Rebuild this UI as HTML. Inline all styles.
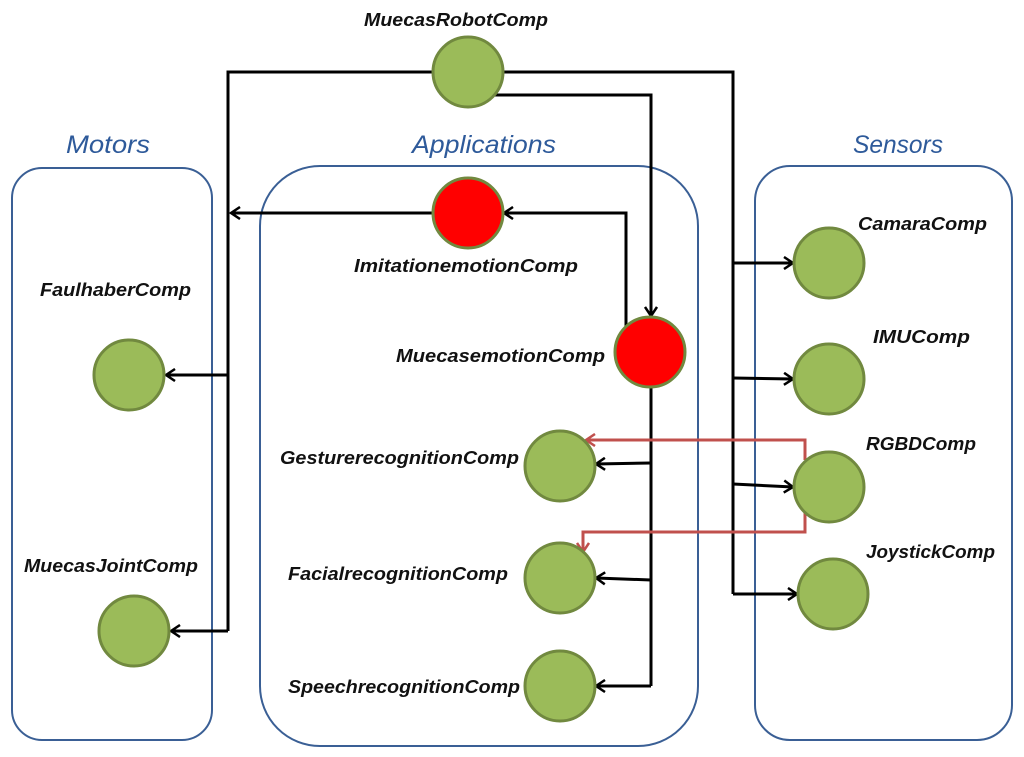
<!DOCTYPE html>
<html><head><meta charset="utf-8"><style>
html,body{margin:0;padding:0;background:#fff;width:1024px;height:757px;overflow:hidden}
svg{display:block}
.l{font-family:"Liberation Sans",sans-serif;font-weight:bold;font-style:italic;font-size:18px;fill:#111}
.t{font-family:"Liberation Sans",sans-serif;font-style:italic;font-size:25px;fill:#2e5a9a}
</style></head><body>
<svg width="1024" height="757" viewBox="0 0 1024 757">
<defs>
<marker id="a" markerWidth="14" markerHeight="14" refX="11" refY="7" orient="auto" markerUnits="userSpaceOnUse"><path d="M2,1 L11,7 L2,13" fill="none" stroke="#000" stroke-width="2.5"/></marker>
<marker id="r" markerWidth="14" markerHeight="14" refX="11" refY="7" orient="auto" markerUnits="userSpaceOnUse"><path d="M2,1 L11,7 L2,13" fill="none" stroke="#c0504d" stroke-width="2.5"/></marker>
</defs>
<g fill="none" stroke="#3a5f95" stroke-width="2">
<rect x="12" y="168" width="200" height="572" rx="30"/>
<rect x="260" y="166" width="438" height="580" rx="60"/>
<rect x="755" y="166" width="257" height="574" rx="35"/>
</g>
<text class="t" x="66" y="153" textLength="84" lengthAdjust="spacingAndGlyphs">Motors</text>
<text class="t" x="412" y="153" textLength="144" lengthAdjust="spacingAndGlyphs">Applications</text>
<text class="t" x="853" y="153" textLength="90" lengthAdjust="spacingAndGlyphs">Sensors</text>
<g fill="none" stroke="#000" stroke-width="3">
<polyline points="434,72 228,72 228,631"/>
<line x1="228" y1="375" x2="166" y2="375" marker-end="url(#a)"/>
<line x1="228" y1="631" x2="171" y2="631" marker-end="url(#a)"/>
<line x1="434" y1="213" x2="231" y2="213" marker-end="url(#a)"/>
<polyline points="502,72 733,72 733,594"/>
<line x1="733" y1="263" x2="793" y2="263" marker-end="url(#a)"/>
<line x1="733" y1="378" x2="793" y2="379" marker-end="url(#a)"/>
<line x1="733" y1="484" x2="793" y2="487" marker-end="url(#a)"/>
<line x1="733" y1="594" x2="797" y2="594" marker-end="url(#a)"/>
<polyline points="492,95 651,95 651,316" marker-end="url(#a)"/>
<polyline points="626,330 626,213 504,213" marker-end="url(#a)"/>
<line x1="651" y1="386" x2="651" y2="686"/>
<line x1="651" y1="463" x2="596" y2="464" marker-end="url(#a)"/>
<line x1="651" y1="580" x2="596" y2="578" marker-end="url(#a)"/>
<line x1="651" y1="686" x2="596" y2="686" marker-end="url(#a)"/>
</g>
<g fill="none" stroke="#c0504d" stroke-width="3">
<polyline points="805,460 805,440 586,440" marker-end="url(#r)"/>
<polyline points="805,512 805,532 583,532 583,552" marker-end="url(#r)"/>
</g>
<g stroke="#71893f" stroke-width="3">
<circle cx="468" cy="72" r="35" fill="#9bbb59"/>
<circle cx="468" cy="213" r="35" fill="#ff0000"/>
<circle cx="650" cy="352" r="35" fill="#ff0000"/>
<circle cx="129" cy="375" r="35" fill="#9bbb59"/>
<circle cx="134" cy="631" r="35" fill="#9bbb59"/>
<circle cx="560" cy="466" r="35" fill="#9bbb59"/>
<circle cx="560" cy="578" r="35" fill="#9bbb59"/>
<circle cx="560" cy="686" r="35" fill="#9bbb59"/>
<circle cx="829" cy="263" r="35" fill="#9bbb59"/>
<circle cx="829" cy="379" r="35" fill="#9bbb59"/>
<circle cx="829" cy="487" r="35" fill="#9bbb59"/>
<circle cx="833" cy="594" r="35" fill="#9bbb59"/>
</g>
<text class="l" x="364" y="26" textLength="184" lengthAdjust="spacingAndGlyphs">MuecasRobotComp</text>
<text class="l" x="354" y="272" textLength="224" lengthAdjust="spacingAndGlyphs">ImitationemotionComp</text>
<text class="l" x="396" y="362" textLength="209" lengthAdjust="spacingAndGlyphs">MuecasemotionComp</text>
<text class="l" x="280" y="464" textLength="239" lengthAdjust="spacingAndGlyphs">GesturerecognitionComp</text>
<text class="l" x="288" y="580" textLength="220" lengthAdjust="spacingAndGlyphs">FacialrecognitionComp</text>
<text class="l" x="288" y="693" textLength="232" lengthAdjust="spacingAndGlyphs">SpeechrecognitionComp</text>
<text class="l" x="40" y="296" textLength="151" lengthAdjust="spacingAndGlyphs">FaulhaberComp</text>
<text class="l" x="24" y="572" textLength="174" lengthAdjust="spacingAndGlyphs">MuecasJointComp</text>
<text class="l" x="858" y="230" textLength="129" lengthAdjust="spacingAndGlyphs">CamaraComp</text>
<text class="l" x="873" y="343" textLength="97" lengthAdjust="spacingAndGlyphs">IMUComp</text>
<text class="l" x="866" y="450" textLength="110" lengthAdjust="spacingAndGlyphs">RGBDComp</text>
<text class="l" x="866" y="558" textLength="129" lengthAdjust="spacingAndGlyphs">JoystickComp</text>
</svg>
</body></html>
